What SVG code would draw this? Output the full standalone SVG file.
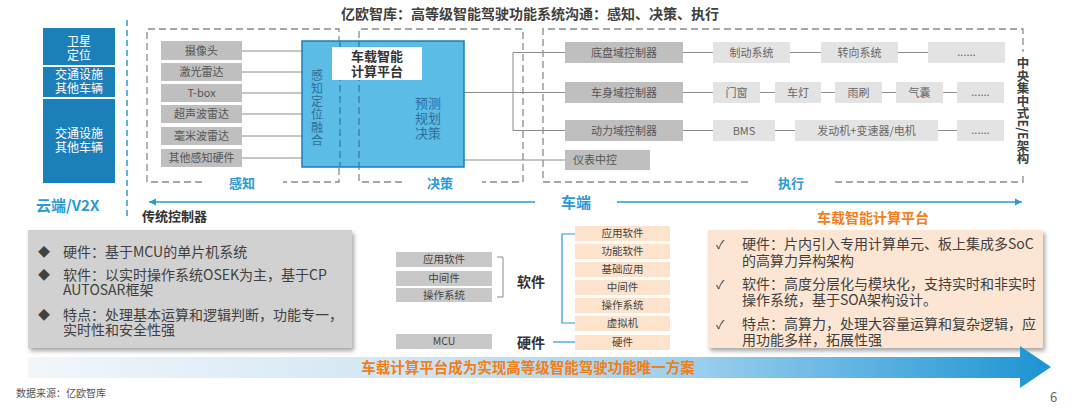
<svg xmlns="http://www.w3.org/2000/svg" width="1080" height="410" viewBox="0 0 1080 410">
<defs>
<style>
text{font-family:"Noto Sans CJK SC","Noto Sans",sans-serif;}
.t{text-anchor:middle;}
.w{fill:#ffffff;font-size:12px;}
.s{fill:#bfbfbf;}
.l{fill:#e3e3e3;}
.st{fill:#555555;font-size:11px;text-anchor:middle;}
.lt{fill:#666666;font-size:11px;text-anchor:middle;}
.dash{stroke:#8c8c8c;stroke-width:1.3;stroke-dasharray:7 4;fill:none;}
.conn{stroke:#8c8c8c;stroke-width:1;fill:none;}
.lbl{fill:#2d9ad4;font-size:13px;font-weight:bold;text-anchor:middle;}
.big{fill:#2d9ad4;font-size:15px;font-weight:bold;}
.body{fill:#404040;font-size:14px;}
.tg{fill:#c8c8c8;}
.pe{fill:#fde3cc;}
.sm{fill:#444444;font-size:10.5px;text-anchor:middle;}
.hd{fill:#333333;font-size:14px;font-weight:bold;}
</style>
<filter id="sh" x="-5%" y="-5%" width="110%" height="115%">
<feDropShadow dx="2" dy="3" stdDeviation="2" flood-color="#000" flood-opacity="0.35"/>
</filter>
<linearGradient id="ag" x1="28" y1="0" x2="1051" y2="0" gradientUnits="userSpaceOnUse">
<stop offset="0" stop-color="#f2f6fa"/>
<stop offset="0.35" stop-color="#d4e7f4"/>
<stop offset="0.65" stop-color="#9ccfee"/>
<stop offset="1" stop-color="#1b94d2"/>
</linearGradient>
<marker id="ah" markerWidth="8" markerHeight="8" refX="7" refY="4" orient="auto" markerUnits="userSpaceOnUse">
<path d="M0,0.5 L7,4 L0,7.5 z" fill="#2d9ad4"/>
</marker>
</defs>
<rect width="1080" height="410" fill="#ffffff"/>

<text x="530" y="19" class="t" style="fill:#404040;font-size:14px;font-weight:bold">亿欧智库：高等级智能驾驶功能系统沟通：感知、决策、执行</text>

<!-- cloud / V2X -->
<g id="cloud">
<rect x="43" y="28" width="72" height="37" fill="#1b7fb9"/>
<rect x="43" y="67" width="72" height="30" fill="#1b7fb9"/>
<rect x="43" y="99" width="72" height="84" fill="#1b7fb9"/>
<text class="w t" x="79" y="46">卫星</text>
<text class="w t" x="79" y="60">定位</text>
<text class="w t" x="79" y="79">交通设施</text>
<text class="w t" x="79" y="93">其他车辆</text>
<text class="w t" x="79" y="138">交通设施</text>
<text class="w t" x="79" y="152">其他车辆</text>
<text class="big" x="36" y="211">云端/V2X</text>
</g>
<line x1="127" y1="20" x2="127" y2="218" stroke="#2d9ad4" stroke-width="1.5" stroke-dasharray="6 4"/>

<!-- dashed frames -->
<g id="frames">
<path class="dash" d="M202,182 H147 V29 H339 V182 H283"/>
<text class="lbl" x="242" y="188">感知</text>
<path class="dash" d="M402,182 H359 V29 H523 V182 H482"/>
<text class="lbl" x="440" y="188">决策</text>
<path class="dash" d="M748,182 H543 V29 H1023 V52"/>
<path class="dash" d="M835,182 H1023 V176"/>
<text class="lbl" x="791" y="188">执行</text>
<text x="1023" y="57" style="writing-mode:vertical-rl;fill:#404040;font-size:12.5px;font-weight:bold">中央集中式E/E架构</text>
</g>

<!-- connectors -->
<g id="connectors">
<line class="conn" x1="242" y1="51" x2="302" y2="51"/>
<line class="conn" x1="242" y1="72" x2="302" y2="72"/>
<line class="conn" x1="242" y1="93" x2="302" y2="93"/>
<line class="conn" x1="242" y1="114" x2="302" y2="114"/>
<line class="conn" x1="242" y1="136" x2="302" y2="136"/>
<line class="conn" x1="242" y1="158" x2="302" y2="158"/>
<line class="conn" x1="464" y1="92.5" x2="513" y2="92.5" stroke-width="1.5"/>
<line class="conn" x1="513" y1="52.5" x2="513" y2="130.5"/>
<line class="conn" x1="513" y1="52.5" x2="565" y2="52.5"/>
<line class="conn" x1="513" y1="92.5" x2="565" y2="92.5"/>
<line class="conn" x1="513" y1="130.5" x2="565" y2="130.5"/>
<line class="conn" x1="464" y1="160" x2="565" y2="160"/>
<line class="conn" x1="683" y1="52.5" x2="713" y2="52.5"/>
<line class="conn" x1="790" y1="52.5" x2="821" y2="52.5"/>
<line class="conn" x1="898" y1="52.5" x2="928" y2="52.5"/>
<line class="conn" x1="683" y1="92.5" x2="713" y2="92.5"/>
<line class="conn" x1="760" y1="92.5" x2="775" y2="92.5"/>
<line class="conn" x1="821" y1="92.5" x2="835" y2="92.5"/>
<line class="conn" x1="882" y1="92.5" x2="896" y2="92.5"/>
<line class="conn" x1="943" y1="92.5" x2="957" y2="92.5"/>
<line class="conn" x1="683" y1="130.5" x2="713" y2="130.5"/>
<line class="conn" x1="775" y1="130.5" x2="795" y2="130.5"/>
<line class="conn" x1="938" y1="130.5" x2="957" y2="130.5"/>
<line x1="535" y1="202" x2="149" y2="202" stroke="#2d9ad4" stroke-width="1.3" marker-end="url(#ah)"/>
<line x1="617" y1="202" x2="1022" y2="202" stroke="#2d9ad4" stroke-width="1.3" marker-end="url(#ah)"/>
<path d="M497,257 H503 V297 H497" fill="none" stroke="#8c8c8c" stroke-width="1"/>
<path d="M575,234 H562 V323 H575" fill="none" stroke="#2d9ad4" stroke-width="1.2"/>
<line x1="553" y1="342" x2="575" y2="342" stroke="#2d9ad4" stroke-width="1.2"/>
</g>

<!-- sensors -->
<g id="sensors">
<rect class="s" x="161" y="41" width="81" height="19"/><text class="st" x="201.5" y="55">摄像头</text>
<rect class="s" x="161" y="63" width="81" height="18"/><text class="st" x="201.5" y="76">激光雷达</text>
<rect class="s" x="161" y="84" width="81" height="18"/><text class="st" x="201.5" y="97">T-box</text>
<rect class="s" x="161" y="105" width="81" height="18"/><text class="st" x="201.5" y="118">超声波雷达</text>
<rect class="s" x="161" y="127" width="81" height="18"/><text class="st" x="201.5" y="140">毫米波雷达</text>
<rect class="s" x="161" y="149" width="81" height="18"/><text class="st" x="201.5" y="162">其他感知硬件</text>
</g>

<!-- computing platform -->
<g id="platform">
<rect x="302" y="41" width="162" height="126" fill="#5bbce6" stroke="#1b7fb9" stroke-width="1.5"/>
<line x1="340" y1="41" x2="340" y2="167" stroke="#3a7aa8" stroke-width="1.3" stroke-dasharray="7 4"/>
<line x1="359" y1="41" x2="359" y2="167" stroke="#3a7aa8" stroke-width="1.3" stroke-dasharray="7 4"/>
<rect x="332" y="47" width="90" height="33" fill="#ffffff"/>
<text class="t" x="377" y="61" style="fill:#333;font-size:13px;font-weight:bold">车载智能</text>
<text class="t" x="377" y="76" style="fill:#333;font-size:13px;font-weight:bold">计算平台</text>
<text class="t" style="fill:#2f6d98;font-size:12px"><tspan x="317" y="80">感</tspan><tspan x="317" y="93">知</tspan><tspan x="317" y="106">定</tspan><tspan x="317" y="119">位</tspan><tspan x="317" y="132">融</tspan><tspan x="317" y="145">合</tspan></text>
<text class="t" style="fill:#2f6d98;font-size:13px"><tspan x="428" y="108">预测</tspan><tspan x="428" y="123">规划</tspan><tspan x="428" y="138">决策</tspan></text>
</g>

<!-- domain controllers -->
<g id="controllers">
<rect class="s" x="565" y="42" width="118" height="21"/><text class="st" x="624" y="57">底盘域控制器</text>
<rect class="s" x="565" y="82" width="118" height="21"/><text class="st" x="624" y="97">车身域控制器</text>
<rect class="s" x="565" y="120" width="118" height="21"/><text class="st" x="624" y="135">动力域控制器</text>
<rect class="s" x="565" y="150" width="85" height="20"/><text class="st" x="600" y="164" style="text-anchor:start" dx="-27">仪表中控</text>
</g>

<!-- actuators -->
<g id="actuators">
<rect class="l" x="713" y="42" width="77" height="21"/><text class="lt" x="751.5" y="57">制动系统</text>
<rect class="l" x="821" y="42" width="77" height="21"/><text class="lt" x="859.5" y="57">转向系统</text>
<rect class="l" x="928" y="42" width="77" height="21"/><text class="lt" x="966.5" y="56">......</text>
<rect class="l" x="713" y="82" width="47" height="21"/><text class="lt" x="736.5" y="97">门窗</text>
<rect class="l" x="775" y="82" width="46" height="21"/><text class="lt" x="798" y="97">车灯</text>
<rect class="l" x="835" y="82" width="47" height="21"/><text class="lt" x="858.5" y="97">雨刷</text>
<rect class="l" x="896" y="82" width="47" height="21"/><text class="lt" x="919.5" y="97">气囊</text>
<rect class="l" x="957" y="82" width="47" height="21"/><text class="lt" x="980.5" y="96">......</text>
<rect class="l" x="713" y="120" width="62" height="21"/><text class="lt" x="744" y="135">BMS</text>
<rect class="l" x="795" y="120" width="143" height="21"/><text class="lt" x="866.5" y="135">发动机+变速器/电机</text>
<rect class="l" x="957" y="120" width="47" height="21"/><text class="lt" x="980.5" y="134">......</text>
</g>

<text x="576" y="208" class="big" style="text-anchor:middle">车端</text>

<!-- traditional controller -->
<g id="traditional">
<text x="142" y="221" class="hd" style="font-size:13px">传统控制器</text>
<rect x="28" y="230" width="324" height="118" fill="#d1d1d1" filter="url(#sh)"/>
<text class="body"><tspan x="38" y="257" style="font-size:12px">◆</tspan><tspan x="63" y="257">硬件：基于MCU的单片机系统</tspan></text>
<text class="body"><tspan x="38" y="280" style="font-size:12px">◆</tspan><tspan x="63" y="280">软件：以实时操作系统OSEK为主，基于CP</tspan><tspan x="63" y="295">AUTOSAR框架</tspan></text>
<text class="body"><tspan x="38" y="320" style="font-size:12px">◆</tspan><tspan x="63" y="320">特点：处理基本运算和逻辑判断，功能专一，</tspan><tspan x="63" y="335">实时性和安全性强</tspan></text>
</g>

<!-- traditional stack -->
<g id="trad-stack">
<rect class="tg" x="396" y="252" width="96" height="15"/><text class="sm" x="444" y="263">应用软件</text>
<rect class="tg" x="396" y="271" width="96" height="15"/><text class="sm" x="444" y="282">中间件</text>
<rect class="tg" x="396" y="288" width="96" height="14"/><text class="sm" x="444" y="299">操作系统</text>
<rect class="tg" x="396" y="334" width="96" height="15"/><text class="sm" x="444" y="345">MCU</text>
<text class="hd" x="531" y="287" style="text-anchor:middle">软件</text>
<text class="hd" x="531" y="348" style="text-anchor:middle">硬件</text>
</g>

<!-- platform stack -->
<g id="plat-stack">
<rect class="pe" x="575" y="226" width="95" height="15"/><text class="sm" x="622.5" y="237">应用软件</text>
<rect class="pe" x="575" y="244" width="95" height="15"/><text class="sm" x="622.5" y="255">功能软件</text>
<rect class="pe" x="575" y="262" width="95" height="15"/><text class="sm" x="622.5" y="273">基础应用</text>
<rect class="pe" x="575" y="280" width="95" height="15"/><text class="sm" x="622.5" y="291">中间件</text>
<rect class="pe" x="575" y="298" width="95" height="15"/><text class="sm" x="622.5" y="309">操作系统</text>
<rect class="pe" x="575" y="316" width="95" height="15"/><text class="sm" x="622.5" y="327">虚拟机</text>
<rect class="pe" x="575" y="335" width="95" height="15"/><text class="sm" x="622.5" y="346">硬件</text>
</g>

<!-- intelligent platform -->
<g id="intelligent">
<text x="873" y="223" style="fill:#f07f1a;font-size:14px;font-weight:bold;text-anchor:middle">车载智能计算平台</text>
<rect x="708" y="230" width="335" height="118" fill="#fce5d3" filter="url(#sh)"/>
<text class="body"><tspan x="716" y="249" style="font-size:12px">✓</tspan><tspan x="742" y="249">硬件：片内引入专用计算单元、板上集成多SoC</tspan><tspan x="742" y="266">的高算力异构架构</tspan></text>
<text class="body"><tspan x="716" y="289" style="font-size:12px">✓</tspan><tspan x="742" y="289">软件：高度分层化与模块化，支持实时和非实时</tspan><tspan x="742" y="305">操作系统，基于SOA架构设计。</tspan></text>
<text class="body"><tspan x="716" y="329" style="font-size:12px">✓</tspan><tspan x="742" y="329">特点：高算力，处理大容量运算和复杂逻辑，应</tspan><tspan x="742" y="345">用功能多样，拓展性强</tspan></text>
</g>

<!-- bottom arrow -->
<g id="banner">
<polygon points="28,357 1020,357 1020,346 1051,367 1020,388 1020,378 28,378" fill="url(#ag)"/>
<text x="528" y="373" style="fill:#f07f1a;font-size:14.5px;font-weight:bold;text-anchor:middle">车载计算平台成为实现高等级智能驾驶功能唯一方案</text>
</g>

<text x="16" y="397" style="fill:#555;font-size:10px">数据来源：亿欧智库</text>
<text x="1050" y="402" style="fill:#666;font-size:13px">6</text>
</svg>
